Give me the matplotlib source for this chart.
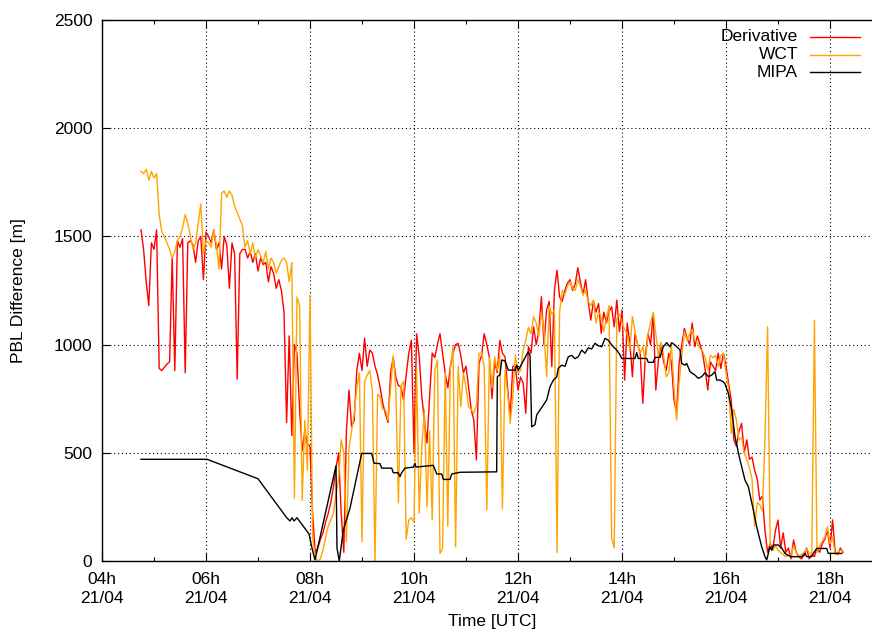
import matplotlib
matplotlib.use("Agg")
import matplotlib.pyplot as plt
import numpy as np

plt.rcParams['font.family'] = ['Liberation Sans', 'DejaVu Sans']

# sampling of the two profile methods (hours UTC)
t_start = 4.75
t_step = 0.05

# Derivative method, one row per hour (20 samples)
deriv = [
    1530, 1440, 1290, 1180, 1470, 1440, 1530, 890, 880, 895, 910, 920, 1400, 880, 1480, 1450, 1490, 870, 1470, 1480,
    1460, 1380, 1480, 1500, 1300, 1520, 1500, 1470, 1530, 1440, 1470, 1350, 1500, 1460, 1260, 1470, 1420, 840, 1420, 1440,
    1440, 1400, 1430, 1380, 1420, 1340, 1400, 1370, 1380, 1290, 1360, 1330, 1260, 1300, 1250, 1150, 640, 1040, 580, 1000,
    960, 700, 510, 600, 540, 530, 220, 40, 60, 100, 130, 180, 220, 270, 340, 430, 500, 220, 40, 600,
    790, 620, 650, 880, 960, 880, 1030, 900, 975, 960, 900, 860, 800, 729, 680, 640, 870, 940, 850, 810,
    805, 744, 860, 961, 1020, 500, 1050, 946, 760, 650, 545, 759, 961, 940, 1000, 1050, 960, 868, 800, 900,
    960, 1000, 1006, 950, 870, 900, 805, 700, 651, 467, 913, 950, 1050, 1000, 940, 750, 920, 870, 1020, 960,
    944, 800, 667, 900, 900, 790, 850, 821, 683, 990, 960, 1082, 1000, 1060, 1221, 1000, 1160, 1200, 898, 1250,
    1344, 1220, 1200, 1250, 1283, 1300, 1250, 1280, 1355, 1290, 1230, 1300, 1200, 1113, 1200, 1150, 1190, 1052, 1150, 1100,
    1150, 1175, 1082, 1206, 1060, 1160, 836, 1100, 1010, 852, 1050, 1000, 960, 729, 950, 1050, 1000, 1144, 790, 930,
    1000, 920, 880, 960, 920, 744, 683, 920, 1000, 1075, 1030, 1000, 1100, 990, 1040, 1000, 960, 883, 790, 920,
    900, 880, 960, 890, 960, 900, 820, 744, 560, 530, 600, 636, 500, 560, 470, 480, 420, 380, 282, 300,
    140, 40, 80, 50, 140, 189, 60, 130, 40, 60, 10, 97, 40, 20, 10, 25, 60, 10, 30, 20,
    60, 40, 80, 100, 143, 60, 190, 40, 30, 60, 40,
]

# Wavelet covariance transform
wct = [
    1800, 1790, 1810, 1760, 1800, 1770, 1790, 1600, 1520, 1500, 1470, 1440, 1400, 1430, 1480, 1500, 1540, 1600, 1560, 1500,
    1440, 1470, 1560, 1650, 1420, 1480, 1470, 1450, 1530, 1460, 1350, 1700, 1710, 1680, 1710, 1690, 1640, 1610, 1580, 1550,
    1450, 1480, 1420, 1470, 1400, 1440, 1410, 1380, 1430, 1350, 1400, 1380, 1330, 1360, 1390, 1400, 1380, 1290, 1380, 290,
    1220, 1180, 280, 650, 420, 1230, 110, 20, 0, 10, 50, 110, 160, 190, 220, 310, 380, 560, 500, 90,
    520, 600, 680, 800, 870, 90, 830, 860, 880, 780, 0, 770, 760, 700, 700, 650, 800, 950, 800, 270,
    810, 830, 100, 190, 200, 180, 890, 220, 530, 700, 250, 600, 190, 880, 929, 35, 60, 870, 160, 900,
    990, 66, 900, 713, 868, 800, 713, 700, 683, 720, 960, 961, 900, 236, 940, 800, 944, 880, 950, 240,
    880, 780, 636, 760, 950, 870, 880, 975, 1021, 1080, 1050, 1129, 1100, 1040, 1150, 1060, 852, 1180, 1140, 1160,
    40, 1150, 1250, 1230, 1270, 1290, 1260, 1250, 1300, 1270, 1230, 1250, 1200, 1180, 1206, 1100, 1150, 1130, 1060, 1120,
    1180, 110, 60, 1120, 1140, 1100, 1070, 1050, 975, 1129, 1060, 1000, 960, 990, 920, 1050, 1102, 1150, 1050, 950,
    1010, 950, 851, 870, 1000, 800, 651, 830, 950, 1060, 1020, 1050, 1070, 1020, 1010, 980, 970, 940, 880, 950,
    940, 950, 900, 950, 960, 870, 800, 590, 700, 650, 560, 570, 500, 470, 430, 380, 160, 270, 260, 230,
    574, 1082, 60, 50, 70, 50, 40, 30, 20, 30, 20, 70, 40, 25, 30, 40, 55, 40, 30, 1113,
    40, 70, 90, 110, 158, 80, 110, 30, 40, 50, 45,
]

# MIPA (irregular time stamps, hours UTC)
mipa_t = [4.75, 6.02, 7.0, 7.552, 7.615, 7.654, 7.692, 7.75, 7.981, 8.038, 8.096, 8.5, 8.519, 8.563, 8.64,
          8.769, 8.994, 9.187, 9.231, 9.346, 9.379, 9.571, 9.602, 9.692, 9.731, 9.763, 9.827, 9.987, 10.019,
          10.038, 10.371, 10.404, 10.437, 10.533, 10.563, 10.692, 10.725, 10.885, 11.59, 11.602, 11.654, 11.687,
          11.75, 11.813, 11.942, 11.975, 12.006, 12.198, 12.231, 12.263, 12.327, 12.36, 12.552, 12.615, 12.679,
          12.744, 12.775, 12.84, 12.904, 12.967, 13.033, 13.096, 13.16, 13.225, 13.288, 13.352, 13.417, 13.481,
          13.544, 13.61, 13.673, 13.737, 13.802, 13.898, 13.962, 13.994, 14.25, 14.283, 14.313, 14.475, 14.506,
          14.602, 14.635, 14.731, 14.794, 14.859, 14.923, 14.956, 15.019, 15.115, 15.148, 15.212, 15.244, 15.308,
          15.404, 15.467, 15.533, 15.596, 15.66, 15.725, 15.788, 15.821, 15.885, 15.948, 15.981, 16.044, 16.11,
          16.173, 16.269, 16.365, 16.429, 16.525, 16.59, 16.686, 16.75, 16.783, 16.813, 16.846, 16.879, 16.91,
          17.006, 17.071, 17.135, 17.198, 17.263, 17.456, 17.519, 17.552, 17.648, 17.679, 17.744, 17.937, 17.967,
          18.225]
mipa = [470, 470, 380, 200, 185, 200, 185, 200, 125, 60, 5, 440, 60, 0, 143,
        244, 497, 497, 452, 450, 429, 429, 408, 408, 390, 408, 429, 434, 450,
        434, 442, 422, 402, 402, 377, 377, 402, 410, 412, 852, 860, 929,
        925, 882, 882, 905, 882, 967, 950, 620, 630, 675, 744, 805, 836,
        850, 890, 905, 900, 944, 950, 935, 944, 975, 960, 985, 980, 1006,
        995, 990, 1029, 1020, 998, 975, 952, 936, 936, 963, 936, 936, 918,
        918, 941, 941, 990, 1009, 990, 1009, 998, 975, 913, 905, 913, 875,
        859, 844, 852, 870, 852, 859, 875, 836, 836, 828, 818, 775, 698,
        574, 467, 374, 344, 236, 158, 66, 20, 5, 35, 66, 50, 74,
        74, 60, 35, 25, 20, 20, 35, 20, 20, 35, 58, 58, 35,
        35]

hours = [4, 6, 8, 10, 12, 14, 16, 18]
day = "21/04"

t = t_start + t_step * np.arange(len(deriv))

fig = plt.figure(figsize=(8.72, 6.33), dpi=100)
ax = fig.add_axes([102 / 872, 72 / 633, 780 / 872, 541 / 633])

ax.plot(t, deriv, color='#ff0000', lw=1.0)
ax.plot(t, wct, color='#ffa500', lw=1.0)
ax.plot(mipa_t, mipa, color='black', lw=1.0)

ax.set_xlim(4, 19)
ax.set_ylim(0, 2500)
ax.set_xticks(hours)
ax.set_xticklabels(["%02dh\n%s" % (h, day) for h in hours])
ax.set_xticks([5, 7, 9, 11, 13, 15, 17], minor=True)
ax.set_yticks(range(0, 2501, 500))
for lbl in ax.get_xticklabels():
    lbl.set_linespacing(1.3)

ax.tick_params(which='both', direction='in', top=True, right=True, labelsize=12.5)
ax.tick_params(which='major', length=6, width=0.8)
ax.tick_params(which='minor', length=3, width=0.8)
ax.tick_params(axis='y', pad=7)
ax.tick_params(axis='x', pad=8)
ax.grid(True, which='major', color='black', lw=0.8, ls=(0, (1, 2.5)))
for s in ax.spines.values():
    s.set_linewidth(1.0)

ax.set_xlabel("Time [UTC]", fontsize=12.5, labelpad=6)
ax.set_ylabel("PBL Difference [m]", fontsize=12.5, labelpad=20)

# gnuplot style key, text right-aligned before the sample
key = [("Derivative", '#ff0000'), ("WCT", '#ffa500'), ("MIPA", 'black')]
for i, (name, col) in enumerate(key):
    yk = 0.9686 - i * 0.0328
    ax.text(0.8923, yk, name, transform=ax.transAxes, ha='right', va='center', fontsize=12.5)
    ax.plot([0.9077, 0.9718], [yk, yk], transform=ax.transAxes, color=col, lw=1.0)

fig.savefig("out.png", dpi=100)
